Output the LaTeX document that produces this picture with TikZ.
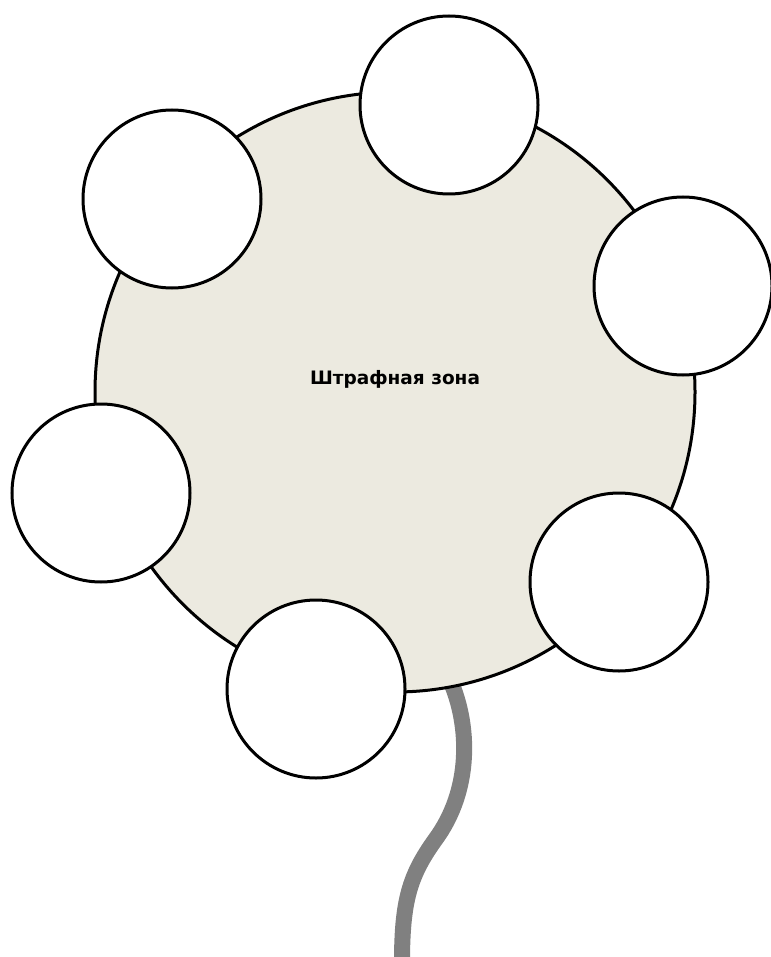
\documentclass[tikz,border=0pt]{standalone}
\usepackage{fontspec}
\setmainfont{DejaVu Sans}
\definecolor{zonefill}{RGB}{236,234,224}
\definecolor{stemgray}{RGB}{128,128,128}
\begin{document}
\begin{tikzpicture}[x=1pt,y=-1pt,
  zone/.style={circle,draw=black,line width=3pt,fill=zonefill,minimum size=600pt,inner sep=0pt},
  petal/.style={circle,draw=black,line width=3pt,fill=white,minimum size=178pt,inner sep=0pt},
  stem/.style={draw=stemgray,line width=16pt},
  caption/.style={font=\fontsize{18.5}{22}\selectfont\bfseries,inner sep=0pt}]
\useasboundingbox (0,0) rectangle (770,957);
\coordinate (stemtop) at (450,680);
\coordinate (stemmid) at (435,840);
\coordinate (stembot) at (402,962);
\draw[stem] (stemtop) .. controls (470,725) and (472,790) .. (stemmid)
  .. controls (410,875) and (402,900) .. (stembot);
\node[zone] (zone) at (395,392) {};
\node[caption] (title) at (395,379) {Штрафная зона};
\node[petal] (p1) at (449,105) {};
\node[petal] (p2) at (172,199) {};
\node[petal] (p3) at (683,286) {};
\node[petal] (p4) at (101,493) {};
\node[petal] (p5) at (619,582) {};
\node[petal] (p6) at (316,689) {};
\end{tikzpicture}
\end{document}
